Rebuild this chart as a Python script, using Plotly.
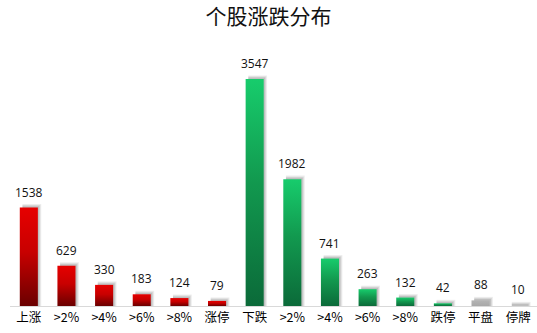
import plotly.graph_objects as go

categories = ["上涨", ">2%", ">4%", ">6%", ">8%", "涨停", "下跌", ">2%", ">4%", ">6%", ">8%", "跌停", "平盘", "停牌"]
values = [1538, 629, 330, 183, 124, 79, 3547, 1982, 741, 263, 132, 42, 88, 10]
groups = ["up"] * 6 + ["down"] * 6 + ["flat", "halt"]

scales = {
    "up": [[0, "#6a0000"], [0.55, "#c80000"], [1, "#e60000"]],
    "down": [[0, "#0b6a39"], [0.55, "#12994f"], [1, "#17cc6c"]],
    "flat": [[0, "#a8a8a8"], [1, "#b4b4b4"]],
    "halt": [[0, "#505050"], [1, "#606060"]],
}

BW = 0.24          # half bar width in category units
SX = 0.09          # shadow x shift
SY = 55            # shadow y extension

fig = go.Figure()

# soft shadows
for i, v in enumerate(values):
    for k, a in enumerate([0.07, 0.09, 0.11]):
        ex = SX * (1 - 0.3 * k)
        ey = SY * (1 - 0.3 * k)
        fig.add_trace(go.Scatter(
            x=[i - BW + 0.07, i + BW + ex, i + BW + ex, i - BW + 0.07, i - BW + 0.07],
            y=[0, 0, v + ey, v + ey, 0],
            fill="toself", mode="lines", line=dict(width=0),
            fillcolor=f"rgba(0,0,0,{a})", hoverinfo="skip", showlegend=False,
        ))

# gradient bars
for i, (v, g) in enumerate(zip(values, groups)):
    fig.add_trace(go.Scatter(
        x=[i - BW, i + BW, i + BW, i - BW, i - BW],
        y=[0, 0, v, v, 0],
        fill="toself", mode="lines", line=dict(width=0),
        fillgradient=dict(type="vertical", colorscale=scales[g]),
        hovertemplate=f"{categories[i]}: {v}<extra></extra>", showlegend=False,
    ))

for i, v in enumerate(values):
    fig.add_annotation(
        x=i, y=v, text=str(v), showarrow=False, yanchor="bottom", yshift=5,
        font=dict(family="Open Sans", size=12, color="#111111"),
    )

fig.update_layout(
    width=537, height=333,
    margin=dict(l=10, r=0, t=40, b=27),
    paper_bgcolor="white", plot_bgcolor="white",
    title=dict(text="个股涨跌分布", x=0.5, xanchor="center", y=0.95, yanchor="middle",
               font=dict(family="Noto Sans CJK SC", size=21, color="#111111")),
    xaxis=dict(
        range=[-0.5, 13.5], tickmode="array", tickvals=list(range(len(categories))),
        ticktext=categories, showgrid=False, zeroline=False, showline=True,
        linecolor="#d9d9d9", linewidth=1, ticks="",
        tickfont=dict(family="Noto Sans CJK SC", size=12.5, color="#000000"),
        fixedrange=True,
    ),
    yaxis=dict(range=[0, 4156], visible=False, showgrid=False, zeroline=False, fixedrange=True),
)

fig.write_html("out.html")
